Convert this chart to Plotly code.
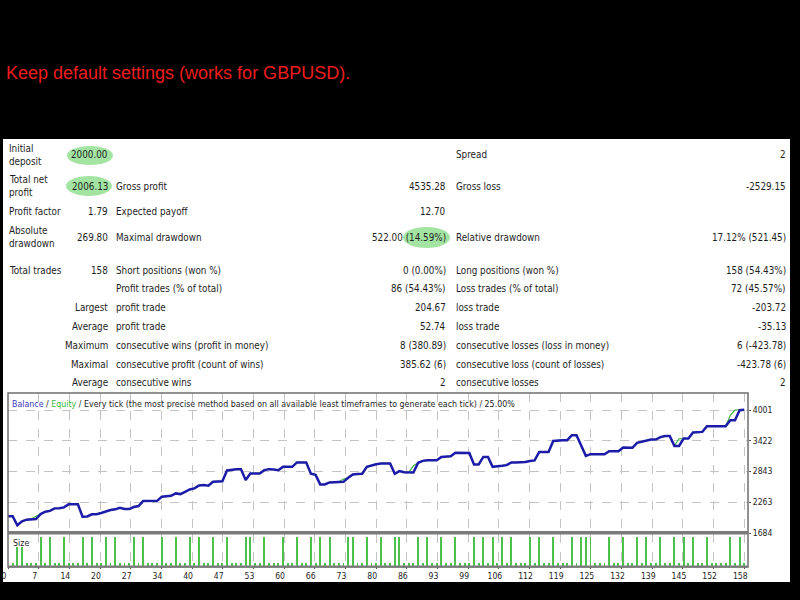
import plotly.graph_objects as go

W, H = 800, 600


def px(x):
    return x / W


def py(y):
    return 1 - y / H


# ---------------- data ----------------
headline = "Keep default settings (works for GBPUSD)."

trade_index = list(range(159))

balance = [
    2000, 2000, 1830, 1905, 1935, 1947, 1947, 2040, 2085, 2100,
    2148, 2150, 2167, 2224, 2224, 2224, 1990, 1995, 2036, 2036,
    2060, 2092, 2116, 2130, 2160, 2135, 2135, 2173, 2192, 2286,
    2286, 2286, 2290, 2366, 2378, 2385, 2430, 2417, 2460, 2505,
    2524, 2580, 2586, 2575, 2648, 2648, 2660, 2863, 2880, 2887,
    2887, 2680, 2806, 2806, 2806, 2868, 2887, 2880, 2868, 2930,
    2930, 2930, 3013, 3013, 3013, 2800, 2780, 2600, 2600, 2637,
    2640, 2648, 2648, 2723, 2787, 2795, 2799, 2930, 2962, 2980,
    2994, 2994, 2994, 2799, 2850, 2830, 2825, 2825, 3006, 3043,
    3056, 3056, 3056, 3118, 3125, 3131, 3194, 3194, 3190, 3190,
    2976, 2976, 3118, 3118, 2930, 2935, 2949, 2962, 3013, 3013,
    3013, 3020, 3040, 3051, 3212, 3212, 3212, 3419, 3432, 3432,
    3432, 3526, 3526, 3330, 3137, 3169, 3169, 3169, 3169, 3225,
    3225, 3225, 3295, 3290, 3290, 3382, 3400, 3430, 3445, 3445,
    3490, 3513, 3513, 3325, 3325, 3463, 3463, 3577, 3580, 3589,
    3696, 3696, 3696, 3696, 3696, 3808, 3808, 3996, 4006.13,
]

equity = [
    2000, 2000, 1830, 1905, 1935, 1947, 2000, 2040, 2085, 2100,
    2148, 2150, 2167, 2224, 2224, 2224, 1990, 1995, 2036, 2036,
    2060, 2092, 2116, 2130, 2160, 2135, 2135, 2173, 2192, 2286,
    2286, 2286, 2290, 2366, 2378, 2385, 2430, 2417, 2460, 2505,
    2524, 2580, 2586, 2575, 2648, 2648, 2660, 2863, 2880, 2887,
    2887, 2680, 2806, 2806, 2806, 2868, 2887, 2880, 2868, 2930,
    2930, 2930, 3013, 3013, 3013, 2800, 2780, 2600, 2600, 2637,
    2640, 2648, 2700, 2723, 2787, 2795, 2799, 2930, 2962, 2980,
    2994, 2994, 2994, 2799, 2850, 2830, 2825, 2950, 3006, 3043,
    3056, 3056, 3056, 3118, 3125, 3131, 3194, 3194, 3190, 3190,
    2976, 2976, 3118, 3118, 2930, 2935, 2949, 2962, 3013, 3013,
    3013, 3020, 3040, 3051, 3212, 3212, 3212, 3419, 3432, 3432,
    3432, 3526, 3526, 3330, 3137, 3169, 3169, 3169, 3169, 3225,
    3225, 3225, 3295, 3290, 3290, 3382, 3400, 3430, 3445, 3445,
    3490, 3513, 3513, 3325, 3460, 3463, 3463, 3577, 3580, 3589,
    3696, 3696, 3696, 3696, 3696, 3900, 4001, 4006, 4006.13,
]

lot_size = [
    0, 0.01, 0.065, 0.065, 0.01, 0.01, 0.01, 0.1, 0.01, 0.1,
    0.01, 0.01, 0.1, 0.01, 0.01, 0.01, 0.1, 0.01, 0.1, 0.01,
    0.01, 0.1, 0.01, 0.1, 0.01, 0.01, 0.01, 0.1, 0.01, 0.1,
    0.01, 0.01, 0.01, 0.1, 0.01, 0.01, 0.1, 0.01, 0.01, 0.1,
    0.01, 0.1, 0.01, 0.01, 0.1, 0.01, 0.01, 0.1, 0.01, 0.01,
    0.01, 0.1, 0.1, 0.01, 0.01, 0.1, 0.01, 0.01, 0.01, 0.1,
    0.01, 0.01, 0.1, 0.01, 0.01, 0.1, 0.01, 0.1, 0.01, 0.1,
    0.01, 0.01, 0.01, 0.1, 0.1, 0.01, 0.01, 0.1, 0.01, 0.01,
    0.1, 0.01, 0.01, 0.1, 0.1, 0.01, 0.01, 0.01, 0.1, 0.01,
    0.1, 0.01, 0.01, 0.1, 0.01, 0.01, 0.1, 0.01, 0.01, 0.01,
    0.1, 0.01, 0.1, 0.01, 0.1, 0.01, 0.1, 0.01, 0.1, 0.01,
    0.01, 0.01, 0.1, 0.01, 0.1, 0.01, 0.01, 0.1, 0.01, 0.01,
    0.01, 0.1, 0.01, 0.1, 0.1, 0.1, 0.01, 0.01, 0.01, 0.1,
    0.01, 0.01, 0.1, 0.01, 0.01, 0.1, 0.01, 0.1, 0.01, 0.01,
    0.1, 0.01, 0.01, 0.1, 0.01, 0.1, 0.01, 0.1, 0.01, 0.01,
    0.1, 0.01, 0.01, 0.01, 0.01, 0.1, 0.01, 0.1, 0.01,
]

y_tick_vals = [1684, 2263, 2843, 3422, 4001]
x_tick_labels = ["0", "7", "14", "20", "27", "34", "40", "47", "53", "60", "66", "73",
                 "80", "86", "93", "99", "106", "112", "119", "125", "132", "139",
                 "145", "152", "158"]

# report table
row_y = [155, 186, 211, 237, 270, 288.3, 307.3, 326, 345, 364, 382.7]
col0_labels = [["Initial", "deposit"], ["Total net", "profit"], ["Profit factor"],
               ["Absolute", "drawdown"], ["Total trades"], [], ["Largest"], ["Average"],
               ["Maximum"], ["Maximal"], ["Average"]]
col0_values = ["2000.00", "2006.13", "1.79", "269.80", "158", "", "", "", "", "", ""]
col1_labels = ["", "Gross profit", "Expected payoff", "Maximal drawdown",
               "Short positions (won %)", "Profit trades (% of total)", "profit trade",
               "profit trade", "consecutive wins (profit in money)",
               "consecutive profit (count of wins)", "consecutive wins"]
col1_values = ["", "4535.28", "12.70", "522.00 (14.59%)", "0 (0.00%)", "86 (54.43%)",
               "204.67", "52.74", "8 (380.89)", "385.62 (6)", "2"]
col2_labels = ["Spread", "Gross loss", "", "Relative drawdown", "Long positions (won %)",
               "Loss trades (% of total)", "loss trade", "loss trade",
               "consecutive losses (loss in money)", "consecutive loss (count of losses)",
               "consecutive losses"]
col2_values = ["2", "-2529.15", "", "17.12% (521.45)", "158 (54.43%)", "72 (45.57%)",
               "-203.72", "-35.13", "6 (-423.78)", "-423.78 (6)", "2"]

# ---------------- styling ----------------
FONT = "DejaVu Sans Condensed, DejaVu Sans"
FS = 9.8
TICK_FS = 8.6
LEG_FS = 8.8
TXT = "#1e1e1e"
BLUE = "#1c1ca8"
GREEN = "#3cb43c"
BAR_GREEN = "#4cc24c"
GRID = "#c4c4c4"

X0, X1 = 8, 748
MAIN_TOP, MAIN_BOT = 393, 533
SIZE_TOP, SIZE_BOT = 534, 566
Y_LOW = 1684
Y_PER_PX = 18.84
X_PER_PX = 1 / 4.66
x_max = (X1 - X0) * X_PER_PX
y_max = Y_LOW + (MAIN_BOT - MAIN_TOP) * Y_PER_PX
x_tick_vals = [k * 158 / 24 for k in range(25)]

fig = go.Figure()

fig.add_trace(go.Scatter(x=trade_index, y=equity, mode="lines",
                         line=dict(color=GREEN, width=1.2), xaxis="x", yaxis="y",
                         showlegend=False, hoverinfo="skip"))
fig.add_trace(go.Scatter(x=trade_index, y=balance, mode="lines",
                         line=dict(color=BLUE, width=2.5), xaxis="x", yaxis="y",
                         showlegend=False, hoverinfo="skip"))
fig.add_trace(go.Bar(x=trade_index, y=lot_size, width=0.2,
                     marker=dict(color=BAR_GREEN, line=dict(width=0)),
                     xaxis="x2", yaxis="y2", showlegend=False, hoverinfo="skip"))

axis_common = dict(showline=False, zeroline=False, automargin=False, fixedrange=True)

fig.update_layout(
    width=W, height=H,
    margin=dict(l=0, r=0, t=0, b=0),
    paper_bgcolor="black",
    plot_bgcolor="white",
    bargap=0,
    font=dict(family=FONT, size=FS, color=TXT),
    xaxis=dict(domain=[px(X0), px(X1)], range=[0, x_max], tickvals=x_tick_vals,
               showticklabels=False, showgrid=True, gridcolor=GRID, griddash="dash",
               gridwidth=1, anchor="y", **axis_common),
    yaxis=dict(domain=[py(MAIN_BOT), py(MAIN_TOP)], range=[Y_LOW, y_max],
               tickvals=y_tick_vals, ticktext=[str(v) for v in y_tick_vals],
               side="right", ticks="outside", ticklen=2, tickcolor="#555",
               tickfont=dict(family=FONT, size=TICK_FS, color=TXT),
               showgrid=True, gridcolor=GRID, griddash="dash", gridwidth=1,
               anchor="x", **axis_common),
    xaxis2=dict(domain=[px(X0), px(X1)], range=[0, x_max], tickvals=x_tick_vals,
                ticktext=x_tick_labels, ticks="outside", ticklen=2, tickcolor="#555",
                tickfont=dict(family=FONT, size=TICK_FS, color=TXT), ticklabelshift=-4,
                showgrid=True, gridcolor=GRID, griddash="dash", gridwidth=1,
                anchor="y2", **axis_common),
    yaxis2=dict(domain=[py(SIZE_BOT), py(SIZE_TOP)], range=[0, 0.11],
                showticklabels=False, showgrid=False, anchor="x2", **axis_common),
)

shapes = [
    # white report panel
    dict(type="rect", xref="paper", yref="paper", x0=px(3), x1=px(790), y0=py(582),
         y1=py(139), fillcolor="white", line=dict(width=0), layer="below"),
    # highlight ellipses
    dict(type="circle", xref="paper", yref="paper", x0=px(67), x1=px(113), y0=py(165),
         y1=py(146), fillcolor="#a3e4a3", line=dict(width=0), layer="below"),
    dict(type="circle", xref="paper", yref="paper", x0=px(66), x1=px(112), y0=py(196),
         y1=py(176), fillcolor="#a3e4a3", line=dict(width=0), layer="below"),
    dict(type="circle", xref="paper", yref="paper", x0=px(403), x1=px(450), y0=py(248),
         y1=py(227), fillcolor="#a3e4a3", line=dict(width=0), layer="below"),
    # chart frame
    dict(type="rect", xref="paper", yref="paper", x0=px(X0), x1=px(X1), y0=py(567),
         y1=py(MAIN_TOP), fillcolor="rgba(0,0,0,0)", line=dict(color="#6e6e6e", width=1.5),
         layer="above"),
    dict(type="rect", xref="paper", yref="paper", x0=px(X0), x1=px(X1), y0=py(534.5),
         y1=py(531), fillcolor="#7a7a7a", line=dict(width=0), layer="above"),
    dict(type="rect", xref="paper", yref="paper", x0=px(X0), x1=px(X1), y0=py(567.5),
         y1=py(565.5), fillcolor="#7a7a7a", line=dict(width=0), layer="above"),
]
fig.update_layout(shapes=shapes)

annotations = []


def txt(x, y, s, anchor="left", color=TXT, size=FS, family=FONT):
    annotations.append(dict(xref="paper", yref="paper", x=px(x), y=py(y), text=s,
                            showarrow=False, xanchor=anchor, yanchor="middle",
                            font=dict(family=family, size=size, color=color),
                            borderpad=0))


txt(5, 73, headline, color="#ee1c1c", size=18, family="Liberation Sans, Arial")

for i, yy in enumerate(row_y):
    lab = col0_labels[i]
    if len(lab) == 2:
        txt(8, yy - 6.5, lab[0])
        txt(8, yy + 6.5, lab[1])
    elif len(lab) == 1:
        if i >= 6:
            txt(108.5, yy, lab[0], anchor="right")
        else:
            txt(8, yy, lab[0])
    if col0_values[i]:
        txt(109, yy, col0_values[i], anchor="right")
    if col1_labels[i]:
        txt(115, yy, col1_labels[i])
    if col1_values[i]:
        txt(447.5, yy, col1_values[i], anchor="right")
    if col2_labels[i]:
        txt(455, yy, col2_labels[i])
    if col2_values[i]:
        txt(787, yy, col2_values[i], anchor="right")

legend_text = ("<span style='color:#3a3ac0'>Balance</span> / "
               "<span style='color:#44b844'>Equity</span> / Every tick (the most precise "
               "method based on all available least timeframes to generate each tick) / 25.00%")
txt(11, 404, legend_text, size=LEG_FS)
txt(12, 543, "Size", size=LEG_FS)

fig.update_layout(annotations=annotations)

fig.write_html(
    "out.html",
    config={"displayModeBar": False},
    post_script="document.body.style.margin='0';document.body.style.padding='0';"
                "document.body.style.overflow='hidden';",
)
